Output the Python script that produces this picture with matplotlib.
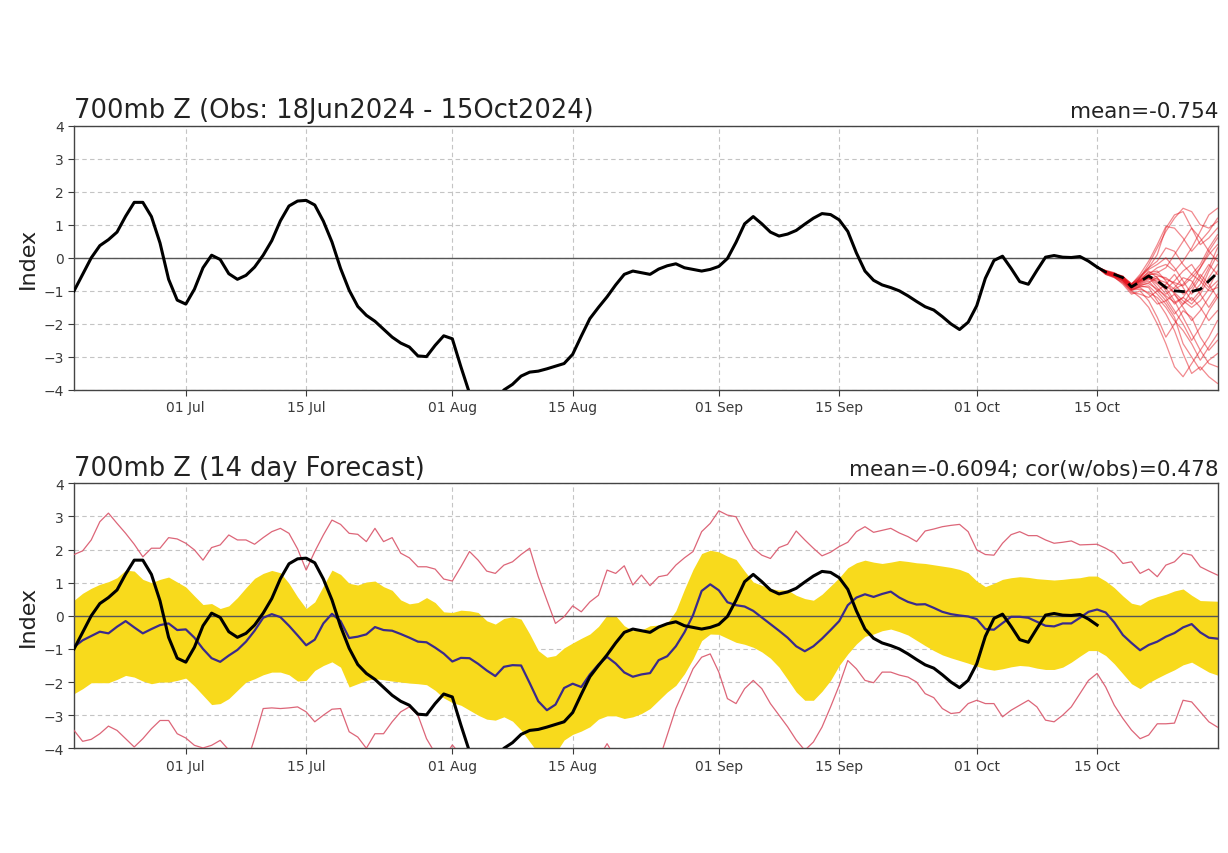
import numpy as np
import pandas as pd
import matplotlib
matplotlib.use("Agg")
import matplotlib.pyplot as plt
import matplotlib.dates as mdates

start_date = "2024-06-18"
obs_end = "2024-10-15"
end_date = "2024-10-29"

obs = [-1.0, -0.5, 0.0, 0.37, 0.55, 0.78, 1.26, 1.68, 1.68, 1.25,
       0.45, -0.65, -1.28, -1.40, -0.95, -0.30, 0.08, -0.05, -0.48, -0.65,
       -0.53, -0.28, 0.08, 0.52, 1.12, 1.57, 1.72, 1.74, 1.60, 1.11,
       0.48, -0.32, -0.98, -1.47, -1.74, -1.92, -2.16, -2.40, -2.58, -2.70,
       -2.97, -2.99, -2.65, -2.36, -2.45, -3.3, -4.1, -4.5, -4.7, -4.4,
       -4.0, -3.83, -3.58, -3.46, -3.43, -3.36, -3.28, -3.20, -2.92, -2.37,
       -1.84, -1.50, -1.18, -0.82, -0.50, -0.40, -0.45, -0.50, -0.34, -0.24,
       -0.18, -0.30, -0.35, -0.40, -0.35, -0.26, -0.02, 0.47, 1.03, 1.25,
       1.03, 0.78, 0.66, 0.72, 0.83, 1.02, 1.20, 1.34, 1.31, 1.15,
       0.80, 0.15, -0.40, -0.68, -0.82, -0.90, -1.00, -1.15, -1.32, -1.48,
       -1.58, -1.78, -2.00, -2.17, -1.95, -1.45, -0.62, -0.08, 0.05, -0.32,
       -0.72, -0.80, -0.38, 0.02, 0.07, 0.02, 0.01, 0.04, -0.10, -0.28]

fc_mean = [-0.94, -0.74, -0.61, -0.48, -0.53, -0.33, -0.16, -0.35, -0.53, -0.40,
           -0.28, -0.23, -0.43, -0.41, -0.66, -1.00, -1.28, -1.39, -1.20, -1.03,
           -0.78, -0.45, -0.06, 0.05, -0.04, -0.30, -0.59, -0.89, -0.72, -0.23,
           0.06, -0.16, -0.67, -0.63, -0.56, -0.34, -0.43, -0.45, -0.55, -0.66,
           -0.78, -0.80, -0.96, -1.14, -1.38, -1.27, -1.28, -1.45, -1.65, -1.82,
           -1.54, -1.49, -1.50, -2.03, -2.58, -2.85, -2.68, -2.18, -2.05, -2.15,
           -1.77, -1.47, -1.24, -1.44, -1.71, -1.84, -1.77, -1.73, -1.34, -1.22,
           -0.92, -0.50, 0.02, 0.75, 0.95, 0.77, 0.41, 0.32, 0.28, 0.15,
           -0.05, -0.25, -0.45, -0.66, -0.92, -1.07, -0.92, -0.69, -0.43, -0.16,
           0.32, 0.55, 0.65, 0.57, 0.66, 0.73, 0.55, 0.42, 0.34, 0.35,
           0.24, 0.12, 0.05, 0.01, -0.02, -0.10, -0.40, -0.42, -0.22, -0.03,
           -0.03, -0.06, -0.18, -0.30, -0.32, -0.23, -0.23, -0.06, 0.12, 0.19,
           0.10, -0.20, -0.58, -0.82, -1.04, -0.88, -0.78, -0.63, -0.52, -0.35,
           -0.25, -0.50, -0.66, -0.69]

band_upper = [0.47, 0.68, 0.83, 0.95, 1.03, 1.15, 1.38, 1.35, 1.10, 1.00,
              1.10, 1.17, 1.02, 0.87, 0.60, 0.34, 0.37, 0.22, 0.30, 0.55,
              0.85, 1.13, 1.28, 1.37, 1.30, 0.98, 0.57, 0.22, 0.42, 0.90,
              1.38, 1.25, 0.98, 0.93, 1.02, 1.05, 0.88, 0.77, 0.48, 0.36,
              0.40, 0.55, 0.40, 0.12, 0.10, 0.17, 0.15, 0.10, -0.15, -0.25,
              -0.08, -0.03, -0.10, -0.55, -1.05, -1.25, -1.20, -0.97, -0.82, -0.68,
              -0.55, -0.32, 0.02, 0.00, -0.30, -0.45, -0.43, -0.30, -0.28, -0.22,
              0.15, 0.80, 1.40, 1.88, 1.98, 1.93, 1.80, 1.70, 1.35, 1.02,
              0.92, 0.82, 0.78, 0.78, 0.62, 0.52, 0.47, 0.65, 0.90, 1.15,
              1.45, 1.60, 1.68, 1.62, 1.58, 1.62, 1.67, 1.64, 1.60, 1.58,
              1.54, 1.50, 1.46, 1.40, 1.30, 1.05, 0.88, 0.98, 1.10, 1.15,
              1.18, 1.16, 1.12, 1.10, 1.08, 1.10, 1.13, 1.15, 1.20, 1.20,
              1.05, 0.85, 0.60, 0.38, 0.32, 0.48, 0.58, 0.65, 0.75, 0.81,
              0.62, 0.46, 0.45, 0.44]

band_lower = [-2.35, -2.20, -2.02, -2.02, -2.02, -1.92, -1.80, -1.85, -1.97, -2.05,
              -2.00, -2.00, -1.95, -1.88, -2.12, -2.40, -2.68, -2.65, -2.50, -2.25,
              -2.00, -1.90, -1.78, -1.70, -1.70, -1.78, -1.97, -1.95, -1.65, -1.50,
              -1.39, -1.55, -2.15, -2.05, -1.95, -1.90, -1.93, -1.97, -2.00, -2.03,
              -2.05, -2.08, -2.25, -2.48, -2.62, -2.70, -2.85, -3.00, -3.12, -3.15,
              -3.05, -3.18, -3.45, -3.80, -4.15, -4.30, -4.15, -3.75, -3.58, -3.48,
              -3.35, -3.12, -3.02, -3.02, -3.10, -3.05, -2.95, -2.80, -2.55, -2.30,
              -2.10, -1.75, -1.30, -0.75, -0.55, -0.56, -0.68, -0.80, -0.86, -0.95,
              -1.09, -1.28, -1.55, -1.92, -2.30, -2.55, -2.55, -2.28, -1.95, -1.50,
              -1.15, -0.85, -0.62, -0.55, -0.45, -0.40, -0.48, -0.58, -0.74, -0.90,
              -1.05, -1.18, -1.27, -1.35, -1.43, -1.52, -1.60, -1.64, -1.60, -1.54,
              -1.50, -1.52, -1.58, -1.62, -1.62, -1.55, -1.40, -1.22, -1.05, -1.05,
              -1.20, -1.45, -1.75, -2.05, -2.20, -2.02, -1.88, -1.75, -1.63, -1.48,
              -1.40, -1.55, -1.70, -1.79]

fc_max = [1.85, 1.96, 2.29, 2.84, 3.10, 2.79, 2.49, 2.16, 1.78, 2.04,
          2.04, 2.36, 2.32, 2.19, 1.99, 1.68, 2.06, 2.14, 2.44, 2.29,
          2.29, 2.16, 2.36, 2.54, 2.64, 2.49, 2.02, 1.38, 1.94, 2.44,
          2.89, 2.76, 2.49, 2.46, 2.24, 2.64, 2.24, 2.36, 1.89, 1.75,
          1.48, 1.48, 1.41, 1.11, 1.05, 1.48, 1.94, 1.68, 1.35, 1.28,
          1.53, 1.63, 1.85, 2.04, 1.18, 0.47, -0.23, -0.03, 0.30, 0.12,
          0.42, 0.62, 1.38, 1.28, 1.51, 0.93, 1.23, 0.91, 1.18, 1.23,
          1.53, 1.75, 1.94, 2.54, 2.79, 3.17, 3.04, 2.99, 2.49, 2.04,
          1.83, 1.73, 2.06, 2.16, 2.56, 2.29, 2.04, 1.81, 1.92, 2.09,
          2.22, 2.54, 2.69, 2.52, 2.58, 2.64, 2.50, 2.39, 2.24, 2.56,
          2.62, 2.69, 2.73, 2.76, 2.54, 1.99, 1.85, 1.83, 2.19, 2.45,
          2.54, 2.42, 2.42, 2.29, 2.19, 2.22, 2.26, 2.14, 2.15, 2.16,
          2.04, 1.89, 1.58, 1.63, 1.28, 1.41, 1.18, 1.53, 1.63, 1.89,
          1.83, 1.48, 1.35, 1.23]

fc_min = [-3.46, -3.79, -3.73, -3.56, -3.33, -3.46, -3.71, -3.96, -3.71, -3.41,
          -3.16, -3.16, -3.56, -3.69, -3.91, -3.99, -3.91, -3.76, -4.05, -4.40,
          -4.50, -3.70, -2.80, -2.78, -2.80, -2.78, -2.75, -2.90, -3.20, -3.00,
          -2.82, -2.80, -3.50, -3.66, -4.00, -3.56, -3.56, -3.20, -2.90, -2.75,
          -3.00, -3.71, -4.15, -4.30, -3.90, -4.20, -4.50, -4.60, -4.70, -4.80,
          -4.80, -4.70, -4.70, -4.80, -4.90, -4.80, -4.70, -4.60, -4.50, -4.40,
          -4.30, -4.30, -3.86, -4.30, -4.50, -4.50, -4.50, -4.50, -4.40, -3.60,
          -2.80, -2.20, -1.60, -1.25, -1.15, -1.70, -2.50, -2.65, -2.20, -1.95,
          -2.20, -2.65, -3.00, -3.35, -3.75, -4.06, -3.81, -3.36, -2.75, -2.10,
          -1.35, -1.60, -1.95, -2.02, -1.70, -1.70, -1.79, -1.85, -2.00, -2.35,
          -2.47, -2.80, -2.95, -2.92, -2.65, -2.55, -2.65, -2.65, -3.05, -2.85,
          -2.70, -2.55, -2.75, -3.15, -3.20, -3.00, -2.75, -2.35, -1.95, -1.74,
          -2.15, -2.70, -3.10, -3.45, -3.71, -3.60, -3.26, -3.26, -3.24, -2.55,
          -2.60, -2.90, -3.20, -3.36]

ens_mean = [-0.28, -0.43, -0.50, -0.60, -0.88, -0.72, -0.55, -0.70, -0.90, -1.00,
            -1.02, -1.02, -0.95, -0.70, -0.45]

ens_members = [
    [-0.28, -0.40, -0.50, -0.70, -0.90, -0.60, -0.20, 0.30, 0.80, 1.20, 1.50, 1.40, 1.00, 0.90, 1.10],
    [-0.28, -0.45, -0.55, -0.65, -0.80, -0.50, -0.10, 0.40, 0.95, 0.90, 0.60, 0.20, 0.50, 0.80, 1.20],
    [-0.28, -0.42, -0.48, -0.55, -0.95, -0.85, -0.90, -1.30, -1.70, -2.20, -2.90, -3.50, -3.30, -3.60, -3.80],
    [-0.28, -0.50, -0.60, -0.75, -1.00, -1.20, -1.50, -2.00, -2.60, -3.30, -3.60, -3.20, -2.80, -3.20, -3.30],
    [-0.28, -0.38, -0.45, -0.60, -0.85, -0.70, -0.40, -0.60, -1.00, -1.40, -1.20, -0.80, -0.30, 0.20, 0.60],
    [-0.28, -0.46, -0.52, -0.58, -0.78, -0.65, -0.50, -0.30, -0.20, -0.40, -0.10, 0.30, 0.80, 1.30, 1.50],
    [-0.28, -0.44, -0.58, -0.80, -1.10, -1.00, -1.30, -1.80, -2.40, -2.00, -1.60, -1.80, -2.40, -2.80, -2.50],
    [-0.28, -0.40, -0.47, -0.62, -0.88, -0.75, -0.60, -0.90, -1.20, -1.60, -2.00, -2.50, -2.10, -1.60, -1.20],
    [-0.28, -0.48, -0.55, -0.66, -0.92, -0.80, -0.70, -1.00, -0.80, -0.50, -0.90, -1.30, -1.00, -0.40, 0.10],
    [-0.28, -0.42, -0.50, -0.63, -0.83, -0.62, -0.45, -0.40, -0.70, -1.10, -1.40, -1.00, -0.60, -0.20, -0.50],
    [-0.28, -0.45, -0.53, -0.68, -0.95, -0.90, -1.10, -1.40, -1.30, -1.10, -1.50, -1.90, -1.60, -1.20, -0.80],
    [-0.28, -0.41, -0.49, -0.57, -0.80, -0.55, -0.30, -0.10, 0.30, 0.20, -0.20, -0.50, -0.20, 0.30, 0.70],
    [-0.28, -0.47, -0.56, -0.72, -1.00, -0.85, -0.75, -0.60, -0.90, -1.30, -1.80, -2.30, -2.80, -2.40, -1.90],
    [-0.28, -0.43, -0.51, -0.64, -0.86, -0.70, -0.60, -0.80, -1.10, -0.90, -0.60, -0.70, -1.10, -1.50, -1.10],
    [-0.28, -0.39, -0.46, -0.59, -0.84, -0.66, -0.52, -0.45, -0.30, 0.10, 0.50, 0.90, 0.60, 0.20, -0.10],
    [-0.28, -0.49, -0.57, -0.70, -0.97, -0.95, -1.05, -1.20, -1.50, -1.90, -2.20, -2.60, -3.10, -2.70, -2.30],
    [-0.28, -0.44, -0.50, -0.61, -0.82, -0.68, -0.55, -0.75, -0.95, -0.70, -0.40, -0.20, -0.60, -0.90, -0.40],
    [-0.28, -0.46, -0.54, -0.67, -0.90, -0.78, -0.65, -0.55, -0.60, -0.80, -1.10, -0.90, -0.50, -0.80, -1.20],
    [-0.28, -0.40, -0.48, -0.56, -0.79, -0.58, -0.35, -0.20, 0.00, -0.30, -0.70, -1.10, -0.80, -0.30, 0.30],
    [-0.28, -0.50, -0.59, -0.76, -1.05, -1.10, -1.20, -1.00, -1.30, -1.70, -1.40, -1.20, -1.50, -1.90, -1.60],
    [-0.28, -0.45, -0.52, -0.62, -0.90, -0.60, -0.30, 0.10, 0.90, 1.30, 1.40, 0.90, 0.40, 0.60, 0.90],
    [-0.28, -0.43, -0.54, -0.66, -0.92, -0.82, -0.78, -0.95, -1.15, -1.35, -1.20, -1.40, -1.10, -0.60, -0.20],
    [-0.28, -0.47, -0.51, -0.60, -0.87, -0.74, -0.62, -0.70, -0.85, -1.05, -1.30, -1.50, -1.30, -0.95, -0.70],
    [-0.28, -0.41, -0.50, -0.64, -0.86, -0.69, -0.50, -0.50, -0.65, -0.75, -0.85, -0.60, -0.30, 0.10, 0.40],
    [-0.28, -0.44, -0.56, -0.69, -0.96, -0.88, -0.85, -1.10, -1.40, -1.80, -2.60, -3.00, -3.40, -3.10, -2.90],
    [-0.28, -0.42, -0.49, -0.61, -0.84, -0.71, -0.58, -0.65, -0.75, -0.95, -0.80, -0.50, -0.70, -1.00, -0.90],
]

title_top = "700mb Z (Obs: 18Jun2024 - 15Oct2024)"
title_top_right = "mean=-0.754"
title_bot = "700mb Z (14 day Forecast)"
title_bot_right = "mean=-0.6094; cor(w/obs)=0.478"
ylabel = "Index"

dates_obs = pd.date_range(start_date, obs_end, freq="D")
dates_fc = pd.date_range(start_date, end_date, freq="D")
dates_ens = pd.date_range(obs_end, end_date, freq="D")

fig = plt.figure(figsize=(12.28, 8.54), dpi=100)
ax1 = fig.add_axes([0.0603, 0.5422, 0.9317, 0.3094])
ax2 = fig.add_axes([0.0603, 0.1226, 0.9317, 0.3103])

tick_dates = pd.to_datetime(["2024-07-01", "2024-07-15", "2024-08-01", "2024-08-15",
                             "2024-09-01", "2024-09-15", "2024-10-01", "2024-10-15"])

def style(ax):
    ax.set_xlim(pd.Timestamp(start_date), pd.Timestamp(end_date) + pd.Timedelta(hours=2))
    ax.set_ylim(-4, 4)
    ax.set_yticks(range(-4, 5))
    ax.set_xticks(tick_dates)
    ax.xaxis.set_major_formatter(mdates.DateFormatter("%d %b"))
    ax.tick_params(labelsize=10, colors="#3a3a3a", length=4)
    ax.grid(True, linestyle=(0, (4, 3)), color="#c4c4c4", linewidth=0.8)
    ax.set_axisbelow(True)
    ax.axhline(0, color="#555555", linewidth=1.0, zorder=3)
    for s in ax.spines.values():
        s.set_color("#444444")
        s.set_linewidth(1.0)
    ax.set_ylabel(ylabel, fontsize=16, color="#222222", labelpad=4)

# top panel
style(ax1)
for m in ens_members:
    ax1.plot(dates_ens, m, color="#e4141e", linewidth=0.9, alpha=0.5, zorder=4)
ax1.plot(dates_obs, obs, color="black", linewidth=2.2, zorder=5)
ax1.plot(dates_ens, ens_mean, color="black", linewidth=2.0, linestyle=(0, (4, 2.5)), zorder=6)
ax1.set_title(title_top, loc="left", fontsize=18.5, color="#222222", pad=6)
ax1.set_title(title_top_right, loc="right", fontsize=15.5, color="#222222", pad=6)

# bottom panel
style(ax2)
ax2.fill_between(dates_fc, band_lower, band_upper, color="#f8da1c", linewidth=0, zorder=2)
ax2.plot(dates_fc, fc_max, color="#d9556a", linewidth=0.9, alpha=0.9, zorder=3)
ax2.plot(dates_fc, fc_min, color="#d9556a", linewidth=0.9, alpha=0.9, zorder=3)
ax2.plot(dates_fc, fc_mean, color="#3a2a8c", linewidth=1.6, zorder=4)
ax2.plot(dates_obs, obs, color="black", linewidth=2.2, zorder=5)
ax2.set_title(title_bot, loc="left", fontsize=18.5, color="#222222", pad=6)
ax2.set_title(title_bot_right, loc="right", fontsize=15.5, color="#222222", pad=6)

fig.savefig("out.png", dpi=100)
